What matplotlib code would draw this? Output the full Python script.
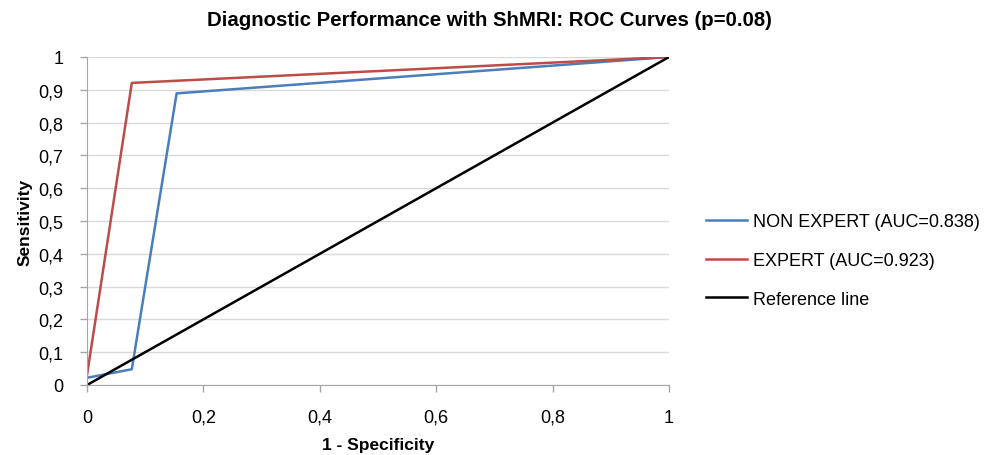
import matplotlib
matplotlib.use('Agg')
import matplotlib.pyplot as plt
from matplotlib.ticker import FuncFormatter

plt.rcParams['font.family'] = ['Liberation Sans', 'DejaVu Sans']

# ROC points (1 - specificity, sensitivity)
non_expert_x = [0, 0.077, 0.154, 1]
non_expert_y = [0.022, 0.048, 0.889, 1]
expert_x = [0, 0.077, 1]
expert_y = [0.03, 0.921, 1]
ref_x = [0, 1]
ref_y = [0, 1]
labels = ['NON EXPERT (AUC=0.838)', 'EXPERT (AUC=0.923)', 'Reference line']

fig = plt.figure(figsize=(9.87, 4.56), dpi=100)
ax = fig.add_axes([87/987, 1-386/456, (669-87)/987, (386-58)/456])

ax.plot(non_expert_x, non_expert_y, color='#4a7ebb', lw=1.8, label=labels[0])
ax.plot(expert_x, expert_y, color='#be4b48', lw=1.8, label=labels[1])
ax.plot(ref_x, ref_y, color='black', lw=1.8, label=labels[2])

ax.set_xlim(0, 1)
ax.set_ylim(0, 1)
ax.set_xticks([0, 0.2, 0.4, 0.6, 0.8, 1])
ax.set_yticks([i/10 for i in range(11)])
fmt = FuncFormatter(lambda v, p: ('%g' % round(v, 2)).replace('.', ','))
ax.xaxis.set_major_formatter(fmt)
ax.yaxis.set_major_formatter(fmt)
ax.grid(axis='y', color='#d9d9d9', lw=1)
ax.set_axisbelow(True)
for s in ['top', 'right']:
    ax.spines[s].set_visible(False)
for s in ['left', 'bottom']:
    ax.spines[s].set_color('#a6a6a6')
ax.tick_params(axis='both', colors='#a6a6a6', labelcolor='black', labelsize=13, length=5, width=1)
ax.tick_params(axis='y', pad=12)
ax.tick_params(axis='x', pad=12)

fig.suptitle('Diagnostic Performance with ShMRI: ROC Curves (p=0.08)', fontsize=14.7, fontweight='bold',
             x=489/987, y=1-21/456, va='center')
ax.set_xlabel('1 - Specificity', fontsize=12.5, fontweight='bold', labelpad=8)
ax.set_ylabel('Sensitivity', fontsize=12.5, fontweight='bold', labelpad=4)

ax.legend(loc='center left', bbox_to_anchor=(1.035, 0.38), frameon=False, fontsize=13,
          handlelength=2.3, labelspacing=1.2, handletextpad=0.3)

fig.savefig('out.png', dpi=100)
